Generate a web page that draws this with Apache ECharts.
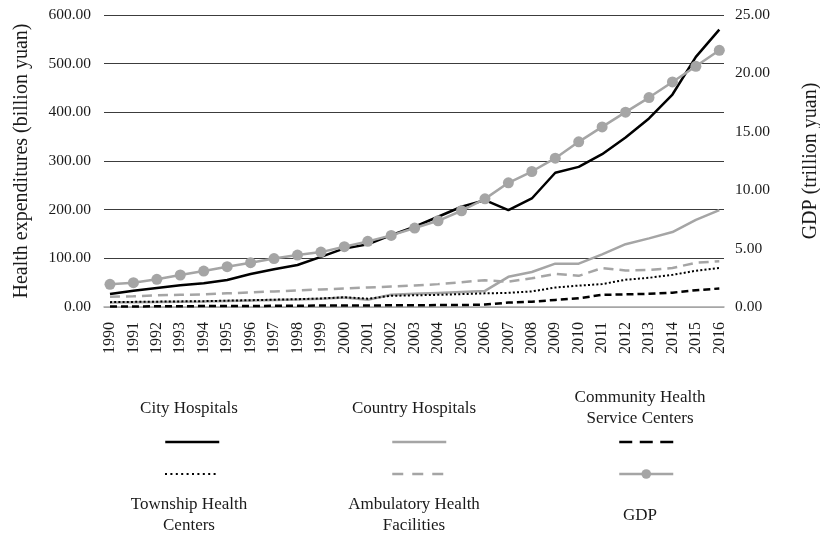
<!DOCTYPE html>
<html>
<head>
<meta charset="utf-8">
<script src="https://cdn.jsdelivr.net/npm/echarts@6/dist/echarts.min.js"></script>
<style>
html,body{margin:0;padding:0;background:#fff;}
#chart{width:820px;height:534px;}
</style>
</head>
<body>
<div id="chart"></div>
<script>
const years = [1990,1991,1992,1993,1994,1995,1996,1997,1998,1999,2000,2001,2002,2003,2004,2005,2006,2007,2008,2009,2010,2011,2012,2013,2014,2015,2016];
const cityHospitals = [26.7,33.5,39,44.5,48.6,55.4,67.7,77.4,86.2,103,120.4,128.7,147.8,164.9,185.4,206,219.7,199,223,275.8,288,314,348.3,387.4,436.6,514,570];
const countryHospitals = [9.5,10,10.5,11,11.5,12.5,13.5,14.5,15.5,17,19.5,15,25,27,29,31,33,62,72,89,89,108,129,141,154,179,199];
const communityCenters = [1,1,1.5,1.5,2,2,2,2.5,2.5,3,3,3,3.5,3.5,4,4,5,9,11,14.5,18,25,26,27,29.5,34.5,38];
const townshipCenters = [10,10.5,11,11.5,12,13,14,15,16,17.5,20,17,23,24,25,26.5,28,29,32,40,44,47,56,60,66,74.5,80];
const ambulatoryFacilities = [21,22,24,25,26,28,30,32,34,36,38,40,42,44,47,51,55,52,59,68,64,80,75,76,80,91,94];
const gdp = [1.94,2.08,2.37,2.74,3.08,3.45,3.79,4.15,4.45,4.70,5.16,5.62,6.13,6.76,7.38,8.24,9.26,10.63,11.6,12.74,14.14,15.42,16.68,17.93,19.27,20.61,21.98];
const leftTicks = [0,100,200,300,400,500,600];
const rightTicks = [0,5,10,15,20,25];

const FONT = 'Liberation Serif';
const TXT = '#1a1a1a';
const GRAY = '#a5a5a5';

function pairs(arr){ return years.map((y,i)=>[y,arr[i]]); }

const chart = echarts.init(document.getElementById('chart'), null, {renderer:'canvas'});

function legendItem(name, left, top, lineType, showSymbol){
  const o = {
    data:[name], left:left, top:top, padding:0, itemWidth:54, itemHeight:12,
    selectedMode:false, formatter:function(){return '';},
    lineStyle:{width:'inherit'}
  };
  if(lineType) o.lineStyle.type = lineType;
  if(!showSymbol) o.itemStyle = {opacity:0, borderWidth:0};
  return o;
}

const option = {
  animation:false,
  grid:{left:104, right:96, top:15, bottom:227, containLabel:false, outerBoundsMode:'none'},
  xAxis:{
    type:'value', min:1989.745, max:2016.2,
    axisLine:{show:true, onZero:false, lineStyle:{color:'#a6a6a6', width:1.5}},
    axisTick:{show:false},
    splitLine:{show:false},
    axisLabel:{customValues:years, rotate:90, margin:15, fontFamily:FONT, fontSize:16, color:TXT,
      formatter:function(v){return String(v);}}
  },
  yAxis:[{
    type:'value', min:leftTicks[0], max:leftTicks[leftTicks.length-1], interval:100,
    name:'Health expenditures (billion yuan)', nameLocation:'middle', nameRotate:90, nameGap:72,
    nameTextStyle:{fontFamily:FONT, fontSize:20, color:TXT},
    axisLine:{show:false}, axisTick:{show:false},
    axisLabel:{margin:13, fontFamily:FONT, fontSize:15.5, color:TXT, formatter:function(v){return v.toFixed(2);}},
    splitLine:{show:true, lineStyle:{color:['#a6a6a6','#3c3c3c','#3c3c3c','#3c3c3c','#3c3c3c','#3c3c3c','#3c3c3c'], width:1}}
  },{
    type:'value', min:rightTicks[0], max:rightTicks[rightTicks.length-1], interval:5,
    name:'GDP (trillion yuan)', nameLocation:'middle', nameRotate:90, nameGap:77,
    nameTextStyle:{fontFamily:FONT, fontSize:20, color:TXT},
    axisLine:{show:false}, axisTick:{show:false},
    axisLabel:{margin:11, fontFamily:FONT, fontSize:15.5, color:TXT, formatter:function(v){return v.toFixed(2);}},
    splitLine:{show:false}
  }],
  legend:[
    legendItem('City Hospitals', 164, 436),
    legendItem('Country Hospitals', 391, 436),
    legendItem('Community Health Service Centers', 618, 436, [13,7.5]),
    legendItem('Township Health Centers', 164, 468, [2,3.4]),
    legendItem('Ambulatory Health Facilities', 391, 468, [11,9]),
    legendItem('GDP', 618, 468, null, true)
  ],
  graphic:[
    {type:'text', x:189, y:409, style:{text:'City Hospitals', font:'17px "Liberation Serif"', fill:TXT, align:'center', verticalAlign:'middle'}},
    {type:'text', x:414, y:409, style:{text:'Country Hospitals', font:'17px "Liberation Serif"', fill:TXT, align:'center', verticalAlign:'middle'}},
    {type:'text', x:640, y:408, style:{text:'Community Health\nService Centers', font:'17px "Liberation Serif"', lineHeight:21, fill:TXT, align:'center', verticalAlign:'middle'}},
    {type:'text', x:189, y:515, style:{text:'Township Health\nCenters', font:'17px "Liberation Serif"', lineHeight:21, fill:TXT, align:'center', verticalAlign:'middle'}},
    {type:'text', x:414, y:515, style:{text:'Ambulatory Health\nFacilities', font:'17px "Liberation Serif"', lineHeight:21, fill:TXT, align:'center', verticalAlign:'middle'}},
    {type:'text', x:640, y:516, style:{text:'GDP', font:'17px "Liberation Serif"', fill:TXT, align:'center', verticalAlign:'middle'}}
  ],
  series:[
    {name:'City Hospitals', type:'line', yAxisIndex:0, data:pairs(cityHospitals), symbol:'none',
      lineStyle:{color:'#000', width:2.5}, itemStyle:{color:'#000'}},
    {name:'Country Hospitals', type:'line', yAxisIndex:0, data:pairs(countryHospitals), symbol:'none',
      lineStyle:{color:GRAY, width:2.5}, itemStyle:{color:GRAY}},
    {name:'Community Health Service Centers', type:'line', yAxisIndex:0, data:pairs(communityCenters), symbol:'none',
      lineStyle:{color:'#000', width:2.5, type:[7,4]}, itemStyle:{color:'#000'}},
    {name:'Township Health Centers', type:'line', yAxisIndex:0, data:pairs(townshipCenters), symbol:'none',
      lineStyle:{color:'#000', width:2, type:[2,2.2]}, itemStyle:{color:'#000'}},
    {name:'Ambulatory Health Facilities', type:'line', yAxisIndex:0, data:pairs(ambulatoryFacilities), symbol:'none',
      lineStyle:{color:GRAY, width:2.5, type:[10,6]}, itemStyle:{color:GRAY}},
    {name:'GDP', type:'line', yAxisIndex:1, data:pairs(gdp), symbol:'circle', symbolSize:11, showAllSymbol:true,
      lineStyle:{color:GRAY, width:2.5}, itemStyle:{color:GRAY}}
  ]
};
chart.setOption(option);
</script>
</body>
</html>
